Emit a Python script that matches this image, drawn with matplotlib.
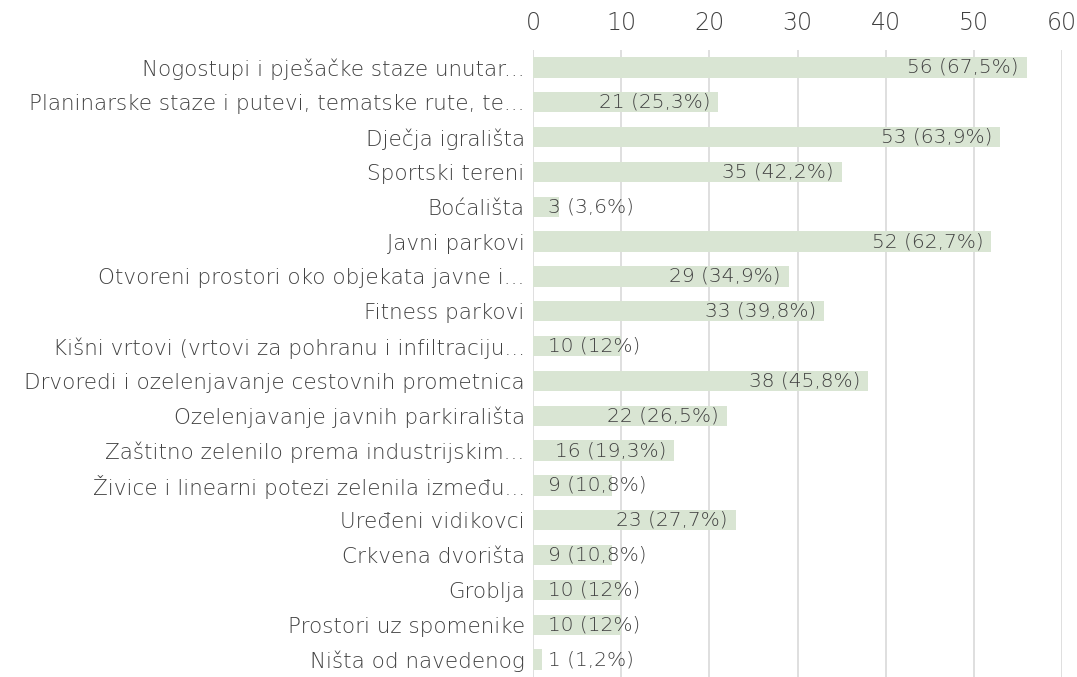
import matplotlib
matplotlib.use("Agg")
import matplotlib.pyplot as plt
from matplotlib.transforms import ScaledTranslation

categories = [
    "Nogostupi i pješačke staze unutar...",
    "Planinarske staze i putevi, tematske rute, te...",
    "Dječja igrališta",
    "Sportski tereni",
    "Boćališta",
    "Javni parkovi",
    "Otvoreni prostori oko objekata javne i...",
    "Fitness parkovi",
    "Kišni vrtovi (vrtovi za pohranu i infiltraciju...",
    "Drvoredi i ozelenjavanje cestovnih prometnica",
    "Ozelenjavanje javnih parkirališta",
    "Zaštitno zelenilo prema industrijskim...",
    "Živice i linearni potezi zelenila između...",
    "Uređeni vidikovci",
    "Crkvena dvorišta",
    "Groblja",
    "Prostori uz spomenike",
    "Ništa od navedenog",
]
counts = [56, 21, 53, 35, 3, 52, 29, 33, 10, 38, 22, 16, 9, 23, 9, 10, 10, 1]
percents = ["67,5%", "25,3%", "63,9%", "42,2%", "3,6%", "62,7%", "34,9%", "39,8%",
            "12%", "45,8%", "26,5%", "19,3%", "10,8%", "27,7%", "10,8%", "12%", "12%", "1,2%"]
xticks = [0, 10, 20, 30, 40, 50, 60]

plt.rcParams['font.family'] = ['DejaVu Sans']
plt.rcParams['font.weight'] = 'light'
text_col = "#404040"

fig = plt.figure(figsize=(10.77, 6.77), dpi=100)
ax = fig.add_axes([533 / 1077, 0.0, 529 / 1077, 627 / 677])

y = list(range(len(categories)))
ax.barh(y, counts, height=0.58, color="#d9e5d3", zorder=2)
ax.set_xlim(0, 60)
ax.set_ylim(len(categories) - 0.5, -0.5)
ax.set_xticks(xticks)
ax.xaxis.tick_top()
ax.tick_params(axis='x', length=0, labelsize=17, labelcolor=text_col, pad=11)
ax.tick_params(axis='y', length=0, labelsize=15.5, labelcolor=text_col, pad=6)
ax.set_yticks(y)
ax.set_yticklabels(categories)
ax.grid(axis='x', color="#d9d9d9", linewidth=1.2, zorder=0)
for s in ax.spines.values():
    s.set_visible(False)

fig.canvas.draw()
renderer = fig.canvas.get_renderer()
left_px = ax.transData.transform((0, 0))[0]
for i, (c, p) in enumerate(zip(counts, percents)):
    t = ax.text(c, i, f"{c} ({p})", ha='right', va='center', fontsize=14.5,
                color=text_col, zorder=3,
                transform=ax.transData + ScaledTranslation(-8 / 100, 0, fig.dpi_scale_trans))
    bb = t.get_window_extent(renderer)
    if bb.x0 < left_px + 15:
        t.set_ha('left')
        t.set_x(0)
        t.set_transform(ax.transData + ScaledTranslation(15 / 100, 0, fig.dpi_scale_trans))

fig.savefig("out.png", dpi=100)
